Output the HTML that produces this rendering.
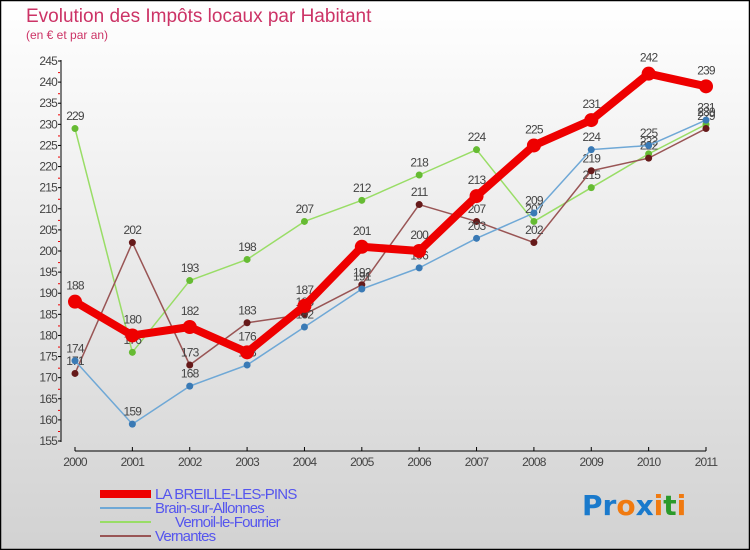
<!DOCTYPE html>
<html><head><meta charset="utf-8"><style>
body{margin:0;width:750px;height:550px;overflow:hidden;font-family:"Liberation Sans",sans-serif}
svg{display:block}
</style></head><body>
<svg width="750" height="550">
<defs><linearGradient id="bg" x1="0" y1="0" x2="0" y2="1"><stop offset="0" stop-color="#ffffff"/><stop offset="1" stop-color="#d2d2d2"/></linearGradient></defs>
<rect x="0.5" y="0.5" width="749" height="549" fill="url(#bg)" stroke="#000" stroke-width="1.5"/>
<text x="26" y="22" font-size="19" fill="#cc3366">Evolution des Impôts locaux par Habitant</text>
<text x="26" y="39" font-size="12" fill="#cc3366">(en € et par an)</text>
<g id="axes"></g>
<g id="series"></g>
<g id="legend"></g>
<g font-size="28" font-weight="bold" font-family="'DejaVu Sans',sans-serif">
<text x="582" y="515"><tspan fill="#1a7acc">P</tspan><tspan fill="#1a7acc">r</tspan><tspan fill="#f07a10">o</tspan><tspan fill="#1a7acc">x</tspan><tspan fill="#f07a10">i</tspan><tspan fill="#2a9a2a">t</tspan><tspan fill="#f07a10">i</tspan></text>
</g>
</svg>
<script>
const years=["2000","2001","2002","2003","2004","2005","2006","2007","2008","2009","2010","2011"];
const yTicks=[155,160,165,170,175,180,185,190,195,200,205,210,215,220,225,230,235,240,245];
const breille=[188,180,182,176,187,201,200,213,225,231,242,239];
const brain=[174,159,168,173,182,191,196,203,209,224,225,231];
const vernoil=[229,176,193,198,207,212,218,224,207,215,223,230];
const vernantes=[171,202,173,183,185,192,211,207,202,219,222,229];
const NS="http://www.w3.org/2000/svg";
const xs=i=>75+i*(706-75)/11;
const ys=v=>441-(v-155)*(441-61)/90;
function mk(t,a,p){const e=document.createElementNS(NS,t);for(const k in a)e.setAttribute(k,a[k]);p.appendChild(e);return e;}
const ax=document.getElementById('axes');
mk('line',{x1:61,y1:60,x2:61,y2:442,stroke:'#000','stroke-width':1},ax);
mk('line',{x1:75,y1:451,x2:706,y2:451,stroke:'#000','stroke-width':1},ax);
yTicks.forEach(v=>{
 const y=ys(v);
 mk('line',{x1:58,y1:y,x2:61,y2:y,stroke:'#000'},ax);
 if(v<245) mk('line',{x1:58,y1:y-9.5,x2:60,y2:y-9.5,stroke:'#e00'},ax);
 const t=mk('text',{x:57,y:y+4,'text-anchor':'end','font-size':12,fill:'#444','letter-spacing':'-0.8'},ax);
 t.textContent=v;
 
 
});
years.forEach((yr,i)=>{
 const x=xs(i);
 mk('line',{x1:x,y1:447,x2:x,y2:451,stroke:'#000'},ax);
 const t=mk('text',{x:x,y:466,'text-anchor':'middle','font-size':12,fill:'#444','letter-spacing':'-0.8'},ax);
 t.textContent=yr;
 
 
});
const sg=document.getElementById('series');
const defs=[
 {name:'vernoil',data:vernoil,color:'#99dd66',dot:'#66bb33',w:1.5,r:3.5},
 {name:'vernantes',data:vernantes,color:'#995555',dot:'#661a1a',w:1.5,r:3.5},
 {name:'brain',data:brain,color:'#6fa8d6',dot:'#3a7ab5',w:1.5,r:3.5},
 {name:'breille',data:breille,color:'#ee0000',dot:'#ee0000',w:8,r:7}
];
defs.forEach(s=>{
 const g=mk('g',{},sg);
 
 
 const pts=s.data.map((v,i)=>xs(i)+','+ys(v)).join(' ');
 const pl=mk('polyline',{points:pts,fill:'none',stroke:s.color,'stroke-width':s.w,'stroke-linejoin':'round'},g);
 
 
 s.data.forEach((v,i)=>{
  const c=mk('circle',{cx:xs(i),cy:ys(v),r:s.r,fill:s.dot},g);
  
  
  const t=mk('text',{x:xs(i),y:ys(v)-(s.r+5),'text-anchor':'middle','font-size':12,fill:'#444','letter-spacing':'-0.8'},g);
  t.textContent=v;
  
  
 });
});
const lg=document.getElementById('legend');
const items=[['LA BREILLE-LES-PINS','#ee0000',8,155],['Brain-sur-Allonnes','#6fa8d6',2,155],['Vernoil-le-Fourrier','#99dd66',2,175],['Vernantes','#995555',2,155]];
items.forEach((it,i)=>{
 const y=498+i*14;
 const g=mk('g',{},lg);
 
 
 mk('line',{x1:100,y1:y-4,x2:151,y2:y-4,stroke:it[1],'stroke-width':it[2]},g);
 const t=mk('text',{x:it[3],y:y+1,'font-size':15,fill:'#5555ee','letter-spacing':'-0.8'},g);
 t.textContent=it[0];
});
</script>
</body></html>
